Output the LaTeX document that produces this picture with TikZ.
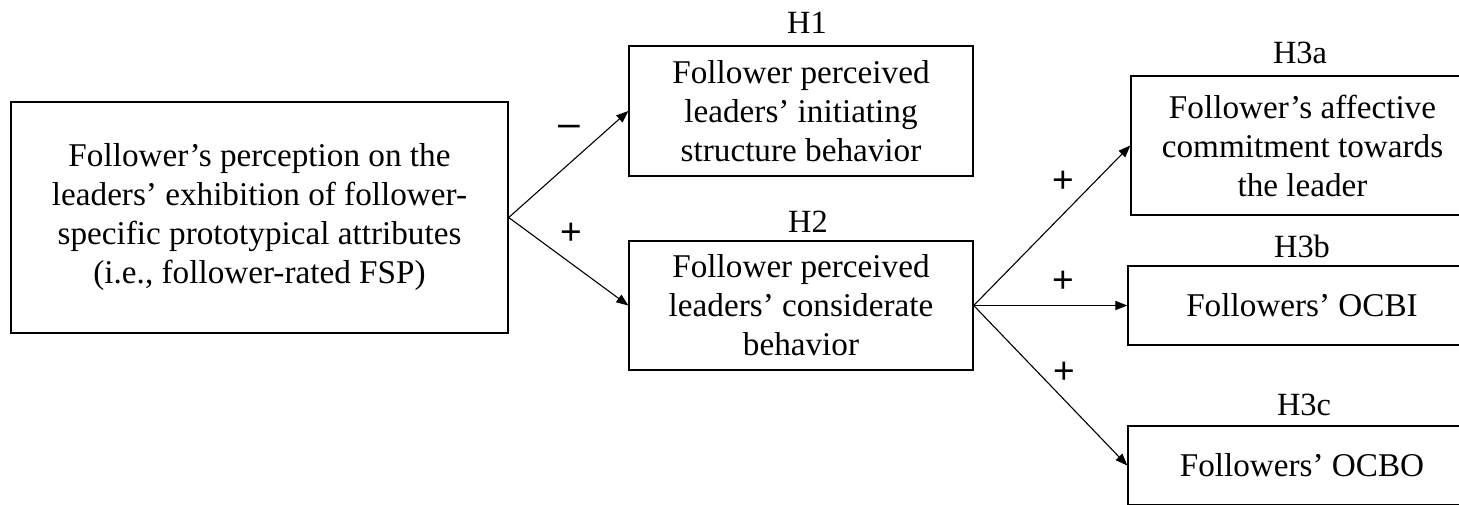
\documentclass[tikz,border=0pt]{standalone}
\usepackage{fontspec}
\setmainfont{Liberation Serif}
\newfontfamily\signfont{Liberation Sans}
\usetikzlibrary{arrows.meta}
\tikzset{
  box/.style={draw, line width=0.7pt, inner sep=0pt, align=center,
    font=\fontsize{16.6}{19.5}\selectfont},
  hyp/.style={anchor=base, inner sep=0pt, font=\fontsize{16.2}{18}\selectfont},
  sign/.style={inner sep=0pt, font=\signfont\fontsize{18.5}{20}\selectfont},
  dashsign/.style={inner sep=0pt, font=\signfont\fontsize{19.5}{21}\selectfont},
  conn/.style={line width=0.55pt, -{Triangle[length=6pt,width=4.6pt]}}
}
\begin{document}
\begin{tikzpicture}[x=0.5pt,y=-0.5pt]
\clip (0,0) rectangle (1459,504);
\fill[white] (0,0) rectangle (1459,504);
% boxes
\node[box, minimum width=248.5pt, minimum height=115.5pt] (L) at (259.5,217.5)
  {Follower’s perception on the\\leaders’ exhibition of follower-\\specific prototypical attributes\\(i.e., follower-rated FSP)};
\node[box, minimum width=172pt, minimum height=65pt] (B1) at (801,111)
  {Follower perceived\\leaders’ initiating\\structure behavior};
\node[box, minimum width=172pt, minimum height=64.5pt] (B2) at (801,305.5)
  {Follower perceived\\leaders’ considerate\\behavior};
\node[box, minimum width=171.5pt, minimum height=69.5pt] (B3a) at (1302.5,145.5)
  {Follower’s affective\\commitment towards\\the leader};
\node[box, minimum width=174pt, minimum height=39.5pt] (B3b) at (1302,305.5)
  {Followers’ OCBI};
\node[box, minimum width=174pt, minimum height=39.5pt] (B3c) at (1302,465.5)
  {Followers’ OCBO};
% hypothesis labels
\node[hyp] (h1) at (807,33) {H1};
\node[hyp] (h2) at (808,232) {H2};
\node[hyp] (h3a) at (1300,63) {H3a};
\node[hyp] (h3b) at (1302,257) {H3b};
\node[hyp] (h3c) at (1304,415) {H3c};
% connectors
\draw[conn] (L.east) -- (B1.west);
\draw[conn] (L.east) -- (B2.west);
\draw[conn] (B2.east) -- (B3a.west);
\draw[conn] (B2.east) -- (B3b.west);
\draw[conn] (B2.east) -- (B3c.west);
% signs
\node[dashsign] (s1) at (569,131) {–};
\node[sign] (s2) at (571,234) {+};
\node[sign] (s3) at (1063,182) {+};
\node[sign] (s4) at (1063,282) {+};
\node[sign] (s5) at (1064,373) {+};
\end{tikzpicture}
\end{document}
